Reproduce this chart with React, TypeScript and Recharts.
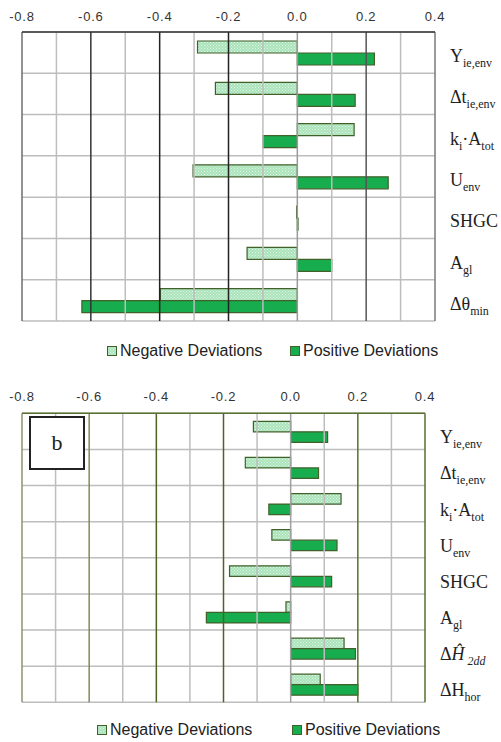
import React from "react";
import {
  BarChart,
  Bar,
  XAxis,
  YAxis,
  CartesianGrid,
  ReferenceLine,
} from "recharts";

type Seg = { text: string; sub?: boolean; italic?: boolean };

// --- chart a (top) ---
const TOP_CATEGORIES = ["Yie", "dtie", "kiA", "Uenv", "SHGC", "Agl", "dthetamin"];
const TOP_LABELS: Seg[][] = [
  [{ text: "Y" }, { text: "ie,env", sub: true }],
  [{ text: "\u0394t" }, { text: "ie,env", sub: true }],
  [{ text: "k" }, { text: "i", sub: true }, { text: "\u00b7A" }, { text: "tot", sub: true }],
  [{ text: "U" }, { text: "env", sub: true }],
  [{ text: "SHGC" }],
  [{ text: "A" }, { text: "gl", sub: true }],
  [{ text: "\u0394\u03b8" }, { text: "min", sub: true }],
];
const TOP_NEGATIVE = [-0.29, -0.238, 0.165, -0.303, -0.002, -0.146, -0.398];
const TOP_POSITIVE = [0.224, 0.168, -0.1, 0.264, 0.002, 0.1, -0.626];

// --- chart b (bottom) ---
const BOT_CATEGORIES = ["Yie", "dtie", "kiA", "Uenv", "SHGC", "Agl", "dH2dd", "dHhor"];
const BOT_LABELS: Seg[][] = [
  [{ text: "Y" }, { text: "ie,env", sub: true }],
  [{ text: "\u0394t" }, { text: "ie,env", sub: true }],
  [{ text: "k" }, { text: "i", sub: true }, { text: "\u00b7A" }, { text: "tot", sub: true }],
  [{ text: "U" }, { text: "env", sub: true }],
  [{ text: "SHGC" }],
  [{ text: "A" }, { text: "gl", sub: true }],
  [{ text: "\u0394" }, { text: "\u0124", italic: true }, { text: " 2dd", sub: true, italic: true }],
  [{ text: "\u0394H" }, { text: "hor", sub: true }],
];
const BOT_NEGATIVE = [-0.111, -0.135, 0.15, -0.056, -0.182, -0.014, 0.159, 0.088];
const BOT_POSITIVE = [0.11, 0.083, -0.065, 0.138, 0.122, -0.251, 0.193, 0.2];

const X_TICKS = [-0.8, -0.6, -0.4, -0.2, 0, 0.2, 0.4];
const X_GRID = [-0.8, -0.7, -0.6, -0.5, -0.4, -0.3, -0.2, -0.1, 0, 0.1, 0.2, 0.3, 0.4];

const SERIES_NAMES = ["Negative Deviations", "Positive Deviations"];

const POS_FILL = "#17ad4e";
const BAR_STROKE = "#42602a";

const TOP_GRID: Record<string, string> = {
  "-0.8": "#6e6e6e",
  "-0.6": "#333",
  "-0.4": "#222",
  "-0.2": "#222",
  "0": "#9a9a9a",
  "0.2": "#555",
  "0.4": "#7a7a7a",
};
const BOT_GRID: Record<string, string> = {
  "-0.8": "#8a9670",
  "-0.6": "#7d8c5a",
  "-0.4": "#4b6420",
  "-0.2": "#4b6420",
  "0": "#a0a0a0",
  "0.2": "#557030",
  "0.4": "#557030",
};

// dotted light-green fill used for the "negative" series
function Pattern({ id }: { id: string }) {
  return (
    <pattern id={id} width="3" height="3" patternUnits="userSpaceOnUse">
      <rect width="3" height="3" fill="#a9e3ba" />
      <rect x="0" y="0" width="1" height="1" fill="#e2f6e7" />
      <rect x="1.5" y="1.5" width="1" height="1" fill="#e2f6e7" />
    </pattern>
  );
}

function CatTick(props: any) {
  const { x, y, payload, labels, cats, dy } = props;
  const segs: Seg[] = labels[cats.indexOf(payload.value)] || [];
  let cur = 0;
  return (
    <text
      x={x}
      y={y + dy}
      fontFamily="'Liberation Serif', 'Times New Roman', serif"
      fontSize={18}
      fill="#222"
    >
      {segs.map((s, i) => {
        const target = s.sub ? 5 : 0;
        const shift = target - cur;
        cur = target;
        return (
          <tspan
            key={i}
            dy={shift}
            fontSize={s.sub ? 12 : 18}
            fontStyle={s.italic ? "italic" : "normal"}
          >
            {s.text}
          </tspan>
        );
      })}
    </text>
  );
}

type PanelProps = {
  cats: string[];
  labels: Seg[][];
  neg: number[];
  pos: number[];
  height: number;
  axisHeight: number;
  bottomMargin: number;
  yAxisWidth: number;
  barSize: number;
  tickMargin: number;
  labelDy: number;
  gridColors: Record<string, string>;
  topColor: string;
  patternId: string;
};

function Panel(p: PanelProps) {
  const data = p.cats.map((c, i) => ({ cat: c, neg: p.neg[i], pos: p.pos[i] }));
  const n = p.cats.length;
  return (
    <BarChart
      width={501}
      height={p.height}
      data={data}
      layout="vertical"
      margin={{ top: 0, right: 0, bottom: p.bottomMargin, left: 22 }}
      barGap={0}
    >
      <defs>
        <Pattern id={p.patternId} />
      </defs>
      <CartesianGrid
        vertical={false}
        stroke="#bdbdbd"
        strokeWidth={1.5}
        horizontalCoordinatesGenerator={({ offset }: any) =>
          Array.from({ length: n + 1 }, (_, i) => offset.top + (i * offset.height) / n)
        }
      />
      {X_GRID.map((v) => (
        <ReferenceLine
          key={v}
          x={v}
          stroke={p.gridColors[String(v)] || "#bdbdbd"}
          strokeWidth={1.5}
        />
      ))}
      <XAxis
        type="number"
        orientation="top"
        domain={[-0.8, 0.4]}
        ticks={X_TICKS}
        tickFormatter={(v: number) => v.toFixed(1)}
        height={p.axisHeight}
        tickLine={false}
        tickSize={0}
        tickMargin={p.tickMargin}
        axisLine={{ stroke: p.topColor, strokeWidth: 1.5 }}
        tick={{
          fontSize: 13,
          fill: "#333",
          fontFamily: "'Liberation Sans', Arial, sans-serif",
          letterSpacing: 0.8,
        }}
        allowDataOverflow
      />
      <YAxis
        type="category"
        dataKey="cat"
        orientation="right"
        width={p.yAxisWidth}
        axisLine={false}
        tickLine={false}
        tickSize={0}
        tickMargin={15}
        interval={0}
        tick={<CatTick labels={p.labels} cats={p.cats} dy={p.labelDy} />}
      />
      <Bar
        dataKey="neg"
        name={SERIES_NAMES[0]}
        fill={`url(#${p.patternId})`}
        stroke={BAR_STROKE}
        strokeWidth={1.2}
        barSize={p.barSize}
        isAnimationActive={false}
      />
      <Bar
        dataKey="pos"
        name={SERIES_NAMES[1]}
        fill={POS_FILL}
        stroke={BAR_STROKE}
        strokeWidth={1.2}
        barSize={p.barSize}
        isAnimationActive={false}
      />
    </BarChart>
  );
}

function LegendRow({ top, negX, posX }: { top: number; negX: number; posX: number }) {
  const text: React.CSSProperties = {
    position: "absolute",
    top: top - 10,
    fontFamily: "'Liberation Sans', Arial, sans-serif",
    fontSize: 16,
    color: "#222",
    lineHeight: "20px",
    whiteSpace: "nowrap",
  };
  const icon = (x: number, fill: string) => (
    <svg
      style={{ position: "absolute", left: x, top: top - 5 }}
      width={10}
      height={10}
    >
      <defs>
        <Pattern id={`lg${x}`} />
      </defs>
      <rect x={0.5} y={0.5} width={9} height={9} fill={fill} stroke={BAR_STROKE} />
    </svg>
  );
  return (
    <>
      {icon(negX, `url(#lg${negX})`)}
      <span style={{ ...text, left: negX + 13 }}>{SERIES_NAMES[0]}</span>
      {icon(posX, POS_FILL)}
      <span style={{ ...text, left: posX + 13 }}>{SERIES_NAMES[1]}</span>
    </>
  );
}

export default function App() {
  return (
    <div
      style={{
        position: "absolute",
        left: 0,
        top: 0,
        width: 501,
        height: 742,
        background: "#fff",
        overflow: "hidden",
      }}
    >
      <div style={{ position: "absolute", left: 0, top: 0 }}>
        <Panel
          cats={TOP_CATEGORIES}
          labels={TOP_LABELS}
          neg={TOP_NEGATIVE}
          pos={TOP_POSITIVE}
          height={372}
          axisHeight={32}
          bottomMargin={51}
          yAxisWidth={66}
          barSize={12}
          tickMargin={11}
          labelDy={9.5}
          gridColors={TOP_GRID}
          topColor="#333"
          patternId="patA"
        />
      </div>
      <LegendRow top={351} negX={107} posX={290} />
      <div style={{ position: "absolute", left: 0, top: 372 }}>
        <Panel
          cats={BOT_CATEGORIES}
          labels={BOT_LABELS}
          neg={BOT_NEGATIVE}
          pos={BOT_POSITIVE}
          height={370}
          axisHeight={41.3}
          bottomMargin={39.7}
          yAxisWidth={76}
          barSize={10.5}
          tickMargin={12.6}
          labelDy={12}
          gridColors={BOT_GRID}
          topColor="#5a7030"
          patternId="patB"
        />
        <div
          style={{
            position: "absolute",
            left: 29,
            top: 43.7,
            width: 52,
            height: 50,
            border: "2px solid #222",
            fontFamily: "'Liberation Serif', 'Times New Roman', serif",
            fontSize: 22,
            lineHeight: "50px",
            textAlign: "center",
            color: "#222",
            background: "#fff",
          }}
        >
          b
        </div>
      </div>
      <LegendRow top={730} negX={97} posX={292} />
    </div>
  );
}
